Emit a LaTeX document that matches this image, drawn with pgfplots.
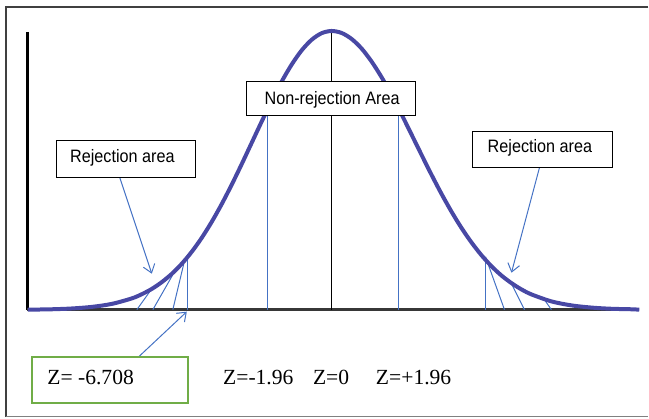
\documentclass[border=0pt]{standalone}
\usepackage{fontspec}
\setmainfont{Liberation Serif}
\newfontfamily\arial[FakeStretch=0.9]{Liberation Sans}
\usepackage{pgfplots}
\pgfplotsset{compat=1.18}
\usetikzlibrary{arrows.meta}

\definecolor{curveblue}{RGB}{72,72,164}
\definecolor{lineblue}{RGB}{68,114,196}
\definecolor{boxgreen}{RGB}{112,173,71}
\definecolor{axisgray}{RGB}{55,55,55}

\begin{document}
\begin{tikzpicture}
\begin{axis}[
    scale only axis,
    width=324.5pt, height=209.5pt,
    xmin=0, xmax=649, ymin=0, ymax=419,
    y dir=reverse,
    hide axis,
    clip=false,
]
% page size and outer frame
\path (axis cs:0,0) rectangle (axis cs:649,419);
\draw[line width=0.7pt, black!75] (axis cs:649,7) -- (axis cs:6,7) -- (axis cs:6,417);
\draw[line width=0.7pt, black!50] (axis cs:6,417) -- (axis cs:649,417);

% axes of the sketch
\addplot[black, line width=1.5pt, no marks] coordinates {(28,32) (28,310)};
\addplot[axisgray, line width=1.5pt, no marks] coordinates {(27,310) (640,310)};

% mean line
\addplot[black, line width=0.5pt, no marks] coordinates {(332,31) (332,310)};

% critical value lines
\addplot[lineblue, line width=0.5pt, no marks] coordinates {(268,109) (268,310)};
\addplot[lineblue, line width=0.5pt, no marks] coordinates {(399,108) (399,310)};
\addplot[lineblue, line width=0.5pt, no marks] coordinates {(188,255) (188,310)};
\addplot[lineblue, line width=0.5pt, no marks] coordinates {(486,257) (486,310)};

% hatching in the tails
\addplot[lineblue, line width=0.5pt, no marks] coordinates {(137,310) (152,289)};
\addplot[lineblue, line width=0.5pt, no marks] coordinates {(153,310) (173,275)};
\addplot[lineblue, line width=0.5pt, no marks] coordinates {(173,310) (184,264)};
\addplot[lineblue, line width=0.5pt, no marks] coordinates {(486,257) (505,310)};
\addplot[lineblue, line width=0.5pt, no marks] coordinates {(512,284) (525,310)};
\addplot[lineblue, line width=0.5pt, no marks] coordinates {(545,300) (552,310)};

% bell curve
\addplot[curveblue, line width=2pt, no marks, smooth] coordinates {
    (28,310) (52,309.6) (72,308.8) (92,307.2) (112,304.2) (132,298.7)
    (142,294.5) (152,289.2) (162,282.4) (172,274.1) (182,264.0) (192,252.0)
    (202,238.0) (212,222.0) (222,204.2) (232,184.8) (242,164.2) (252,142.9)
    (262,121.6) (272,100.9) (282,81.6) (292,64.6) (302,50.4) (312,39.8)
    (322,33.2) (332,31)
    (342,33.0) (352,39.0) (362,48.6) (372,61.6) (382,77.3) (392,95.1)
    (402,114.5) (412,134.7) (422,155.0) (432,175.0) (442,194.1) (452,211.9)
    (462,228.2) (472,242.7) (482,255.5) (492,266.5) (502,275.8) (512,283.4)
    (522,289.7) (532,294.7) (552,301.7) (572,305.7) (592,307.9) (612,309.1)
    (632,309.6) (640,310)
};

% callout arrows
\draw[lineblue, line width=0.5pt, -{Straight Barb[length=4pt,width=6pt]}] (axis cs:120,178) -- (axis cs:152,274);
\draw[lineblue, line width=0.5pt, -{Straight Barb[length=4pt,width=6pt]}] (axis cs:540,168) -- (axis cs:512,273);
\draw[lineblue, line width=0.5pt, -{Straight Barb[length=4pt,width=6pt]}] (axis cs:139,357) -- (axis cs:187,312);

% label boxes
\draw[line width=0.5pt, fill=white] (axis cs:247,82) rectangle (axis cs:416,116);
\node[anchor=base, inner sep=0pt, font=\arial\fontsize{9}{10}\selectfont] at (axis cs:332.5,105) {Non-rejection Area};
\draw[line width=0.5pt, fill=white] (axis cs:57,141) rectangle (axis cs:196,178);
\node[anchor=base, inner sep=0pt, font=\arial\fontsize{9}{10}\selectfont] at (axis cs:122.5,163) {Rejection area};
\draw[line width=0.5pt, fill=white] (axis cs:473,132) rectangle (axis cs:613,168);
\node[anchor=base, inner sep=0pt, font=\arial\fontsize{9}{10}\selectfont] at (axis cs:540.5,153) {Rejection area};

% z values
\draw[boxgreen, line width=1pt] (axis cs:32,357) rectangle (axis cs:188,403);
\node[anchor=base west, inner sep=0pt, font=\fontsize{10.8}{12}\selectfont] at (axis cs:47,385) {Z= -6.708};
\node[anchor=base west, inner sep=0pt, font=\fontsize{10.8}{12}\selectfont] at (axis cs:223,385) {Z=-1.96};
\node[anchor=base west, inner sep=0pt, font=\fontsize{10.8}{12}\selectfont] at (axis cs:313,385) {Z=0};
\node[anchor=base west, inner sep=0pt, font=\fontsize{10.8}{12}\selectfont] at (axis cs:376,385) {Z=+1.96};
\end{axis}
\end{tikzpicture}
\end{document}
